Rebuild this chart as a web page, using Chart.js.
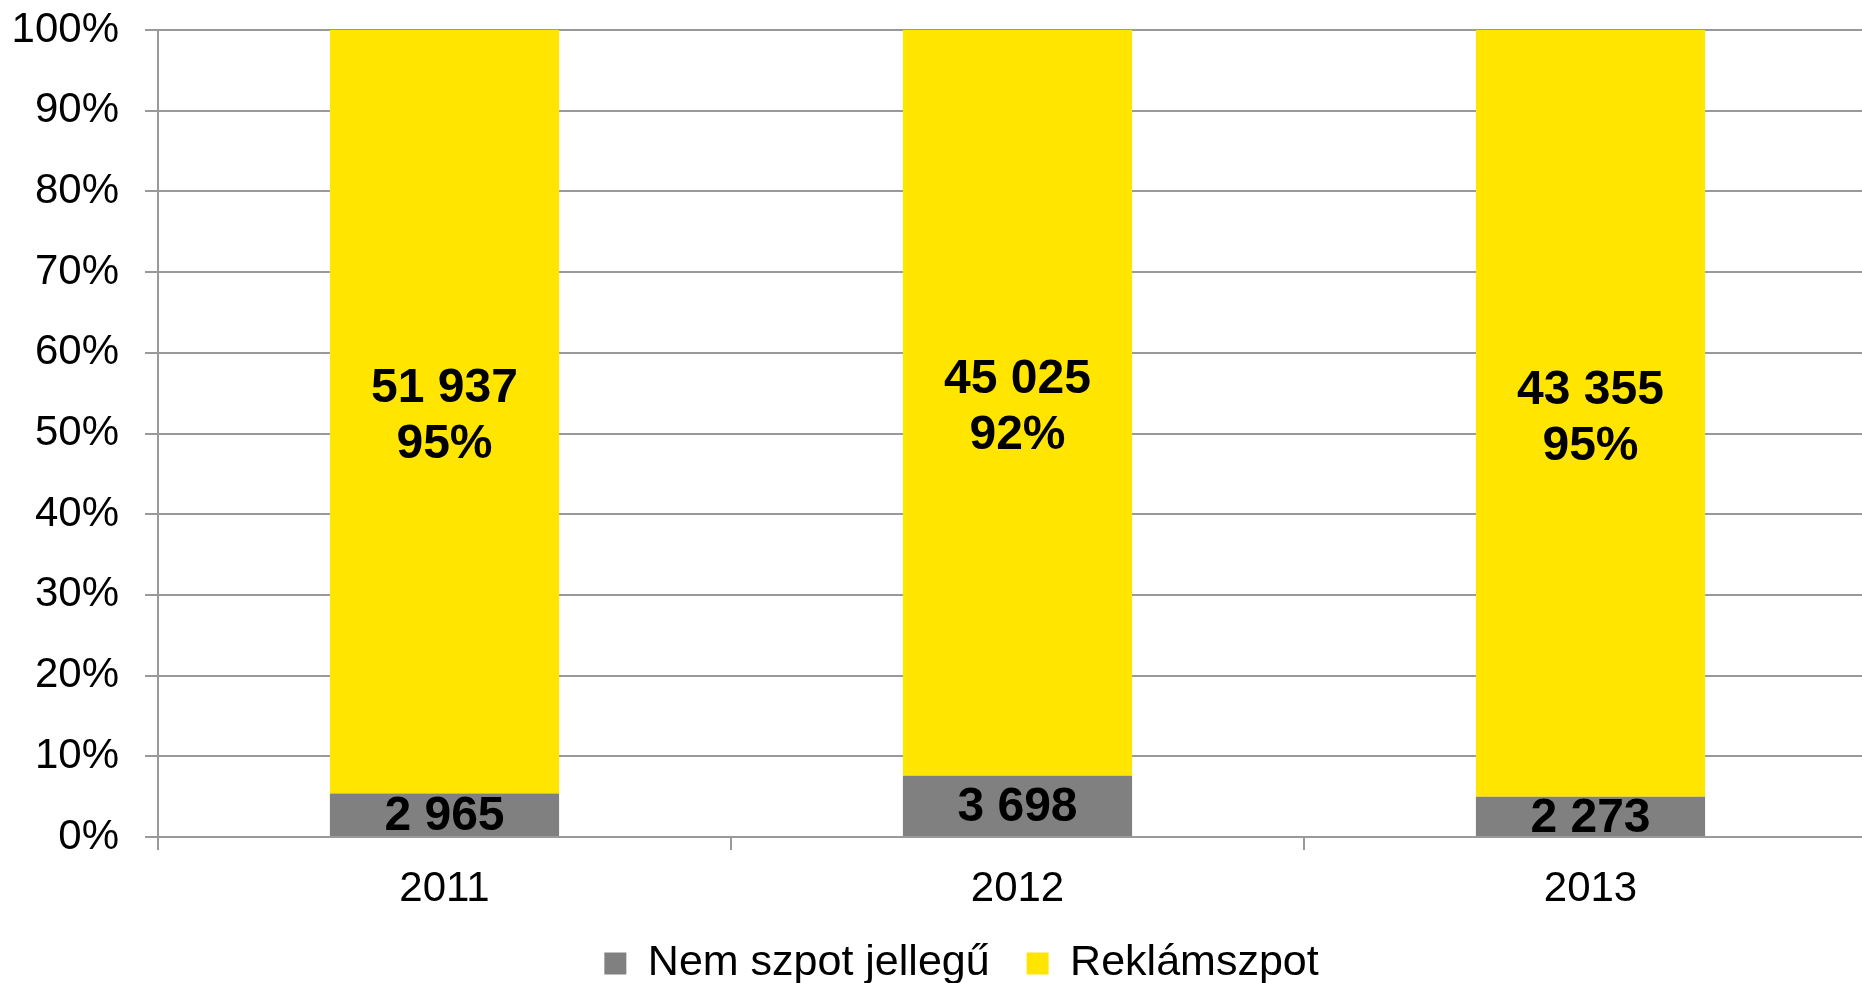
<!DOCTYPE html>
<html>
<head>
<meta charset="utf-8">
<script src="https://cdn.jsdelivr.net/npm/chart.js@4.4.1/dist/chart.umd.min.js"></script>
<style>
html,body{margin:0;padding:0;background:#fff;overflow:hidden;}
#c{display:block;}
</style>
</head>
<body>
<canvas id="c" width="1913" height="995" style="width:1913px;height:995px"></canvas>
<script>
const categories = ['2011', '2012', '2013'];
const nemSzpot = [2965, 3698, 2273];
const reklamszpot = [51937, 45025, 43355];
const seriesNames = ['Nem szpot jellegű', 'Reklámszpot'];
const yTicks = [0, 10, 20, 30, 40, 50, 60, 70, 80, 90, 100];

const totals = categories.map((_, i) => nemSzpot[i] + reklamszpot[i]);
const pct = (arr) => arr.map((v, i) => v / totals[i] * 100);
const fmt = (v) => String(v).replace(/\B(?=(\d{3})+(?!\d))/g, ' ');

const FONT = "'Liberation Sans', Arial, sans-serif";
const GRID = '#999999';

const labelPlugin = {
  id: 'segLabels',
  afterDatasetsDraw(chart) {
    const ctx = chart.ctx;
    ctx.save();
    ctx.fillStyle = '#000';
    ctx.textAlign = 'center';
    ctx.textBaseline = 'middle';
    ctx.font = 'bold 48px ' + FONT;
    chart.data.datasets.forEach((ds, di) => {
      const meta = chart.getDatasetMeta(di);
      meta.data.forEach((el, i) => {
        const p = el.getProps(['x', 'y', 'base'], true);
        const cy = (p.y + p.base) / 2;
        const raw = ds.raw[i];
        if (di === 0) {
          ctx.fillText(fmt(raw), p.x, cy + 2);
        } else {
          const pr = Math.round(raw / totals[i] * 100) + '%';
          ctx.fillText(fmt(raw), p.x, cy - 23);
          ctx.fillText(pr, p.x, cy + 33);
        }
      });
    });
    ctx.restore();
  }
};

new Chart(document.getElementById('c'), {
  type: 'bar',
  data: {
    labels: categories,
    datasets: [
      { label: seriesNames[0], data: pct(nemSzpot), raw: nemSzpot, backgroundColor: '#808080', borderWidth: 0,
        barPercentage: 0.4, categoryPercentage: 1.0 },
      { label: seriesNames[1], data: pct(reklamszpot), raw: reklamszpot, backgroundColor: '#FFE500', borderWidth: 0,
        barPercentage: 0.4, categoryPercentage: 1.0 }
    ]
  },
  options: {
    responsive: false,
    animation: false,
    devicePixelRatio: 1,
    layout: { padding: { top: 30, left: 10, right: 0, bottom: 0 } },
    plugins: {
      tooltip: { enabled: false },
      legend: {
        position: 'bottom',
        labels: {
          color: '#000',
          font: { family: FONT, size: 43 },
          boxWidth: 22,
          boxHeight: 22,
          padding: 37
        }
      }
    },
    scales: {
      x: {
        stacked: true,
        afterFit(scale) { scale.height = 68; },
        grid: { display: true, drawOnChartArea: false, drawTicks: true, tickLength: 13, color: GRID, lineWidth: 2, offset: true },
        border: { display: true, color: GRID, width: 2 },
        ticks: { color: '#000', font: { family: FONT, size: 42 }, padding: 14 }
      },
      y: {
        stacked: true,
        min: 0,
        max: 100,
        afterFit(scale) { scale.width = 148; scale.paddingTop = 0; scale.paddingBottom = 0; },
        afterBuildTicks(scale) { scale.ticks = yTicks.map(v => ({ value: v })); },
        grid: { color: GRID, lineWidth: 2, tickLength: 13, drawTicks: true },
        border: { display: true, color: GRID, width: 2 },
        ticks: { color: '#000', font: { family: FONT, size: 42 }, padding: 26, callback: (v) => v + '%' }
      },
      yRight: {
        type: 'linear',
        position: 'right',
        min: 0,
        max: 100,
        afterFit(scale) { scale.width = 36; scale.paddingTop = 0; scale.paddingBottom = 0; },
        grid: { display: false, drawTicks: false },
        border: { display: false },
        ticks: { display: false }
      }
    }
  },
  plugins: [labelPlugin]
});
</script>
</body>
</html>
